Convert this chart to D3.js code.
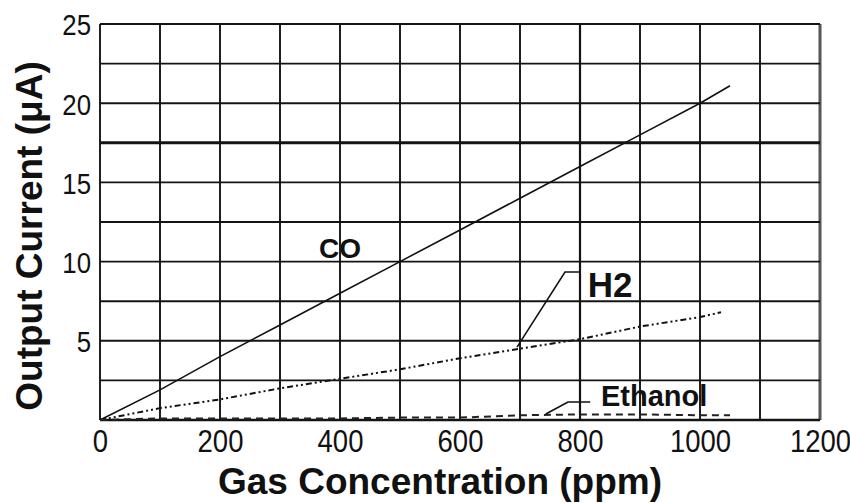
<!DOCTYPE html>
<html>
<head>
<meta charset="utf-8">
<script src="https://cdn.jsdelivr.net/npm/d3@7"></script>
<style>
html,body{margin:0;padding:0;background:#fff;}
svg{display:block;}
</style>
</head>
<body>
<svg id="chart" width="850" height="503"></svg>
<script>
// ---- data ----
const xTicks = [0, 200, 400, 600, 800, 1000, 1200];
const yTicks = [5, 10, 15, 20, 25];
const coData = [[0,0],[100,1.9],[200,4.0],[300,6.0],[400,8.0],[500,10.0],[600,12.0],[700,14.0],[800,16.0],[900,18.0],[1000,20.0],[1050,21.1]];
const h2Data = [[0,0],[100,0.75],[200,1.3],[300,2.0],[400,2.6],[500,3.2],[600,3.9],[700,4.5],[800,5.1],[900,5.9],[1000,6.5],[1035,6.8]];
const ethanolData = [[0,0],[100,0.1],[200,0.1],[300,0.1],[400,0.1],[500,0.15],[600,0.15],[700,0.3],[800,0.35],[900,0.35],[1000,0.3],[1050,0.3]];
const seriesNames = ["CO", "H2", "Ethanol"];
const xTitle = "Gas Concentration (ppm)";
const yTitle = "Output Current (\u03BCA)";

// ---- layout ----
const svg = d3.select("#chart");
const x = d3.scaleLinear().domain([0, 1200]).range([100, 820]);
const y = d3.scaleLinear().domain([0, 25]).range([420, 24]);
const font = "Liberation Sans, Arial, sans-serif";

// grid
const g = svg.append("g");
g.selectAll("line.v").data(d3.range(0, 1201, 100)).enter().append("line")
  .attr("x1", d => x(d)).attr("x2", d => x(d))
  .attr("y1", y(0)).attr("y2", y(25))
  .attr("stroke", d => d === 1200 ? "#555" : "#141414")
  .attr("stroke-width", d => d === 1200 ? 3 : (d === 800 ? 2.2 : 1.9));
g.selectAll("line.h").data(d3.range(0, 25.01, 2.5)).enter().append("line")
  .attr("x1", x(0)).attr("x2", x(1200))
  .attr("y1", d => y(d)).attr("y2", d => y(d))
  .attr("stroke", "#141414")
  .attr("stroke-width", d => d === 17.5 ? 3 : (d === 0 ? 2.4 : 1.9));

// tick labels via axes
const ax = svg.append("g").attr("transform", `translate(0,${y(0)})`)
  .call(d3.axisBottom(x).tickValues(xTicks).tickSize(0).tickPadding(0).tickFormat(d3.format("d")));
ax.select(".domain").remove();
ax.selectAll("text")
  .attr("font-family", font)
  .attr("font-size", 32).attr("fill", "#111")
  .attr("dy", null).attr("y", 0)
  .attr("transform", "translate(0,32) scale(0.86,1)");

const ay = svg.append("g").attr("transform", `translate(${x(0)},0)`)
  .call(d3.axisLeft(y).tickValues(yTicks).tickSize(0).tickPadding(0).tickFormat(d3.format("d")));
ay.select(".domain").remove();
ay.selectAll("text")
  .attr("font-family", font)
  .attr("font-size", 30).attr("fill", "#111")
  .attr("x", 0).attr("dy", "0.36em")
  .attr("transform", "translate(-9,0) scale(0.86,1)");

// axis titles
svg.append("text").text(xTitle)
  .attr("x", 440).attr("y", 494)
  .attr("text-anchor", "middle")
  .attr("font-family", font)
  .attr("font-weight", "bold").attr("font-size", 37).attr("fill", "#111");
svg.append("text").text(yTitle)
  .attr("transform", "translate(42,236) rotate(-90)")
  .attr("text-anchor", "middle")
  .attr("font-family", font)
  .attr("font-weight", "bold").attr("font-size", 37).attr("fill", "#111");

// series
const line = d3.line().x(d => x(d[0])).y(d => y(d[1]));
svg.append("path").datum(coData).attr("d", line)
  .attr("fill", "none").attr("stroke", "#111").attr("stroke-width", 1.6);
svg.append("path").datum(h2Data).attr("d", line)
  .attr("fill", "none").attr("stroke", "#111").attr("stroke-width", 2)
  .attr("stroke-dasharray", "6,3,2,3,2,3");
svg.append("path").datum(ethanolData).attr("d", line)
  .attr("fill", "none").attr("stroke", "#222").attr("stroke-width", 2)
  .attr("stroke-dasharray", "7,5");

// labels and leader lines
const leaderH2 = [[695,4.6],[775,9.34],[800,9.34]];
const leaderEth = [[743,0.38],[780,1.14],[817,1.14]];
svg.append("path").datum(leaderH2).attr("d", line)
  .attr("fill", "none").attr("stroke", "#111").attr("stroke-width", 1.6);
svg.append("path").datum(leaderEth).attr("d", line)
  .attr("fill", "none").attr("stroke", "#111").attr("stroke-width", 1.6);

svg.append("text").text(seriesNames[0])
  .attr("x", x(400)).attr("y", y(10.2)).attr("text-anchor", "middle")
  .attr("font-family", font).attr("font-weight", "bold").attr("font-size", 28).attr("fill", "#111");
svg.append("text").text(seriesNames[1])
  .attr("x", x(813)).attr("y", y(7.75))
  .attr("font-family", font).attr("font-weight", "bold").attr("font-size", 35).attr("fill", "#111");
svg.append("text").text(seriesNames[2])
  .attr("x", x(835)).attr("y", y(0.88))
  .attr("font-family", font).attr("font-weight", "bold").attr("font-size", 29).attr("fill", "#111");
</script>
</body>
</html>
